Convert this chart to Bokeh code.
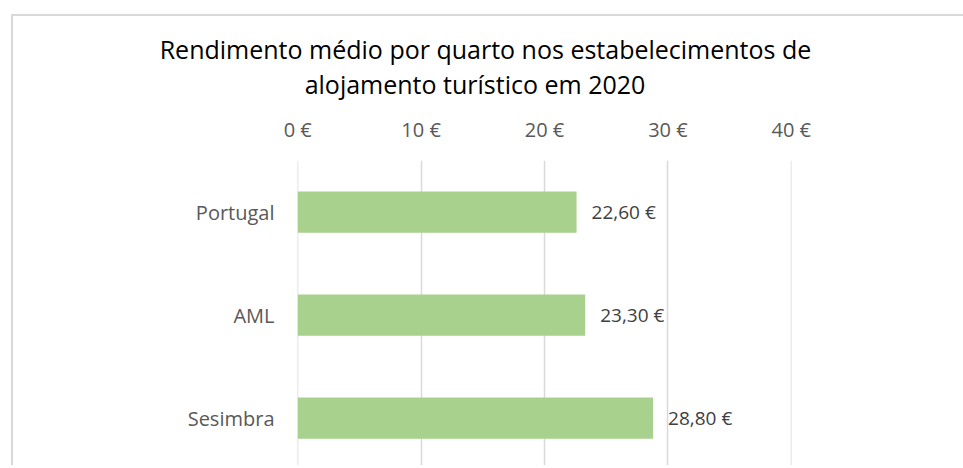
from bokeh.plotting import figure
from bokeh.layouts import column
from bokeh.models import Range1d, FixedTicker, Div, ColumnDataSource
from bokeh.core.properties import value
from bokeh.embed import file_html
from bokeh.resources import INLINE

# ---- data ----
categories = ["Portugal", "AML", "Sesimbra"]
values = [22.60, 23.30, 28.80]
x_ticks = [0, 10, 20, 30, 40]
x_tick_labels = ["0 €", "10 €", "20 €", "30 €", "40 €"]
title_lines = ["Rendimento médio por quarto nos estabelecimentos de",
               "alojamento turístico em 2020"]

n = len(categories)
ypos = [n - 1 - i for i in range(n)]
labels = [f"{v:.2f}".replace(".", ",") + " €" for v in values]

src = ColumnDataSource(dict(y=ypos, v=values, cat=categories, lab=labels))

FONT = "Open Sans"
GRID = "#d9d9d9"
W = 951
TITLE_H = 88

# ---- title (two centred lines) ----
title_html = (
    f'<div style="font-family:\'{FONT}\',sans-serif;font-size:25px;line-height:35px;'
    f'color:#000000;padding-top:13px;margin:0;white-space:nowrap">'
    f'<div style="width:939px;text-align:center">{title_lines[0]}</div>'
    f'<div style="width:918px;text-align:center">{title_lines[1]}</div>'
    f'</div>'
)
title_div = Div(text=title_html, width=W, height=TITLE_H)

# ---- chart ----
p = figure(width=W, height=353, output_backend="svg", toolbar_location=None,
           title=None,
           x_range=Range1d(-0.02, 40.02), y_range=Range1d(-0.46, n - 0.5),
           x_axis_location="above",
           min_border_left=286, min_border_right=171,
           min_border_top=46, min_border_bottom=0)

p.border_fill_color = None
p.background_fill_color = "white"
p.outline_line_color = None

# bars
p.hbar(y="y", right="v", left=0, height=0.4, source=src,
       fill_color="#A9D18E", line_color=None)

# data labels
p.text(x="v", y="y", text="lab", source=src, x_offset=15,
       text_align="left", text_baseline="middle",
       text_font=value(FONT), text_font_size="19px", text_color="#404040")

# x axis (top)
xa = p.xaxis[0]
xa.ticker = FixedTicker(ticks=x_ticks)
xa.major_label_overrides = {t: l for t, l in zip(x_ticks, x_tick_labels)}
xa.axis_line_color = None
xa.major_tick_line_color = None
xa.minor_tick_line_color = None
xa.major_tick_out = 0
xa.major_tick_in = 0
xa.major_label_standoff = 18
xa.major_label_text_font = FONT
xa.major_label_text_font_size = "20px"
xa.major_label_text_color = "#595959"

# y axis
ya = p.yaxis[0]
ya.ticker = FixedTicker(ticks=ypos)
ya.major_label_overrides = {y: c for y, c in zip(ypos, categories)}
ya.axis_line_color = None
ya.major_tick_line_color = None
ya.minor_tick_line_color = None
ya.major_tick_out = 0
ya.major_tick_in = 0
ya.major_label_standoff = 23
ya.major_label_text_font = FONT
ya.major_label_text_font_size = "20px"
ya.major_label_text_color = "#595959"

# grid
p.xgrid.ticker = FixedTicker(ticks=x_ticks)
p.xgrid.grid_line_color = GRID
p.xgrid.grid_line_width = 1.5
p.ygrid.grid_line_color = None

layout = column(title_div, p, spacing=0,
                styles={"margin-left": "11px", "margin-top": "14px",
                        "box-shadow": "inset 2px 2px 0 #d9d9d9"})

open("out.html", "w").write(file_html(layout, INLINE))
